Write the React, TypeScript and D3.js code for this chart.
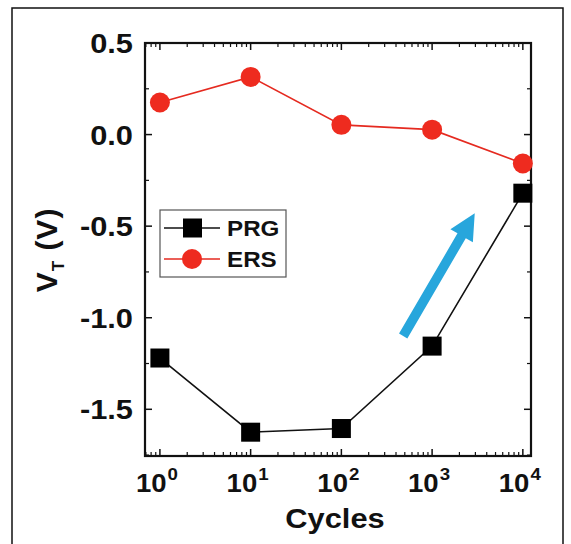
import React from "react";
import * as d3 from "d3";

const cycles = [1, 10, 100, 1000, 10000];
const prg = [-1.22, -1.625, -1.605, -1.155, -0.32];
const ers = [0.175, 0.315, 0.053, 0.027, -0.158];
const yTicks = [0.5, 0.0, -0.5, -1.0, -1.5];
const xTickExps = [0, 1, 2, 3, 4];
const arrowFrom = { x: 480, y: -1.1 };
const arrowTo = { x: 2950, y: -0.43 };
const legendItems = ["PRG", "ERS"];

const W = 571, H = 544;
const L = 145, R = 531, T = 43, B = 456;
const SX = 1.1;

export default function App() {
  const x = d3.scaleLog().domain([0.685, 12300]).range([L, R]);
  const y = d3.scaleLinear().domain([-1.755, 0.5]).range([B, T]);
  const font = "'Liberation Sans', Arial, sans-serif";
  const line = d3.line<number>().x((_, i) => x(cycles[i])).y((d) => y(d));

  const minor: number[] = [];
  for (let e = -1; e <= 4; e++) {
    for (let m = 2; m <= 9; m++) {
      const v = m * Math.pow(10, e);
      if (v > x.domain()[0] && v < x.domain()[1]) minor.push(v);
    }
  }
  const majorX = xTickExps.map((e) => Math.pow(10, e));
  const yMinor = d3.range(-1.75, 0.5001, 0.25).filter((v) => Math.abs((v * 2) % 1) > 0.01);

  const ax0 = x(arrowFrom.x), ay0 = y(arrowFrom.y);
  const ax1 = x(arrowTo.x), ay1 = y(arrowTo.y);
  const ang = Math.atan2(ay1 - ay0, ax1 - ax0);
  const headLen = 26, headW = 13, shaft = 4.8;
  const ux = Math.cos(ang), uy = Math.sin(ang);
  const px = -uy, py = ux;
  const bx = ax1 - ux * headLen, by = ay1 - uy * headLen;
  const arrowPts = [
    [ax0 + px * shaft, ay0 + py * shaft],
    [bx + px * shaft, by + py * shaft],
    [bx + px * headW, by + py * headW],
    [ax1, ay1],
    [bx - px * headW, by - py * headW],
    [bx - px * shaft, by - py * shaft],
    [ax0 - px * shaft, ay0 - py * shaft],
  ].map((p) => p.join(",")).join(" ");

  const legX = 160, legY = 210, legW = 126, legH = 67;
  const fmt = (v: number) => v.toFixed(1);

  return (
    <svg width={W} height={H} style={{ position: "absolute", left: 0, top: 0, background: "#fff" }} fontFamily={font}>
      <rect x={0} y={0} width={W} height={H} fill="#fff" />
      <path d={`M12,${H + 2} L12,8 L563,8 L563,${H + 2}`} fill="none" stroke="#111" strokeWidth={1.5} />

      {majorX.map((v) => (
        <g key={"mx" + v}>
          <line x1={x(v)} x2={x(v)} y1={B} y2={B - 7} stroke="#111" strokeWidth={1.5} />
          <line x1={x(v)} x2={x(v)} y1={T} y2={T + 7} stroke="#111" strokeWidth={1.5} />
        </g>
      ))}
      {minor.map((v) => (
        <g key={"mn" + v}>
          <line x1={x(v)} x2={x(v)} y1={B} y2={B - 4} stroke="#111" strokeWidth={1.2} />
          <line x1={x(v)} x2={x(v)} y1={T} y2={T + 4} stroke="#111" strokeWidth={1.2} />
        </g>
      ))}
      {yTicks.map((v) => (
        <g key={"yt" + v}>
          <line x1={L} x2={L + 7} y1={y(v)} y2={y(v)} stroke="#111" strokeWidth={1.5} />
          <line x1={R} x2={R - 7} y1={y(v)} y2={y(v)} stroke="#111" strokeWidth={1.5} />
        </g>
      ))}
      {yMinor.map((v) => (
        <g key={"ym" + v}>
          <line x1={L} x2={L + 4} y1={y(v)} y2={y(v)} stroke="#111" strokeWidth={1.2} />
          <line x1={R} x2={R - 4} y1={y(v)} y2={y(v)} stroke="#111" strokeWidth={1.2} />
        </g>
      ))}

      <rect x={L} y={T} width={R - L} height={B - T} fill="none" stroke="#111" strokeWidth={2.2} />

      {yTicks.map((v) => (
        <text key={"yl" + v} transform={`translate(133,${y(v) + 10}) scale(${SX},1)`} textAnchor="end" fontSize={28} fontWeight="bold" fill="#111">
          {fmt(v)}
        </text>
      ))}
      {xTickExps.map((e) => (
        <text key={"xl" + e} transform={`translate(${x(Math.pow(10, e)) - 3},492) scale(${SX},1)`} textAnchor="middle" fontSize={25} fontWeight="bold" fill="#111">
          10
          <tspan fontSize={17} dy={-12} dx={1}>{e}</tspan>
        </text>
      ))}
      <text transform={`translate(${(L + R) / 2 - 3},528) scale(${SX},1)`} textAnchor="middle" fontSize={28} fontWeight="bold" fill="#111">Cycles</text>
      <text transform={`translate(57,250) rotate(-90)`} textAnchor="middle" fontSize={30} fontWeight="bold" fill="#111" letterSpacing={1}>
        V<tspan fontSize={17} dy={7}>T</tspan><tspan dy={-7}> (V)</tspan>
      </text>

      <polygon points={arrowPts} fill="#27a6dc" />

      <path d={line(prg) || ""} fill="none" stroke="#111" strokeWidth={1.6} />
      <path d={line(ers) || ""} fill="none" stroke="#e52a20" strokeWidth={1.6} />
      {prg.map((v, i) => (
        <rect key={"p" + i} x={x(cycles[i]) - 9.5} y={y(v) - 9.5} width={19} height={19} fill="#000" />
      ))}
      {ers.map((v, i) => (
        <circle key={"e" + i} cx={x(cycles[i])} cy={y(v)} r={10} fill="#ee2b1f" />
      ))}

      <rect x={legX} y={legY} width={legW} height={legH} fill="#fff" stroke="#555" strokeWidth={1.2} />
      {legendItems.map((name, i) => {
        const ly = legY + 18 + i * 31;
        return (
          <g key={name}>
            <line x1={legX + 4} x2={legX + 60} y1={ly} y2={ly} stroke={i === 0 ? "#111" : "#e52a20"} strokeWidth={1.6} />
            {i === 0 ? (
              <rect x={legX + 23} y={ly - 9.5} width={19} height={19} fill="#000" />
            ) : (
              <circle cx={legX + 32} cy={ly} r={10} fill="#ee2b1f" />
            )}
            <text transform={`translate(${legX + 67},${ly + 8}) scale(${SX},1)`} fontSize={22} fontWeight="bold" fill="#111">{name}</text>
          </g>
        );
      })}
    </svg>
  );
}
